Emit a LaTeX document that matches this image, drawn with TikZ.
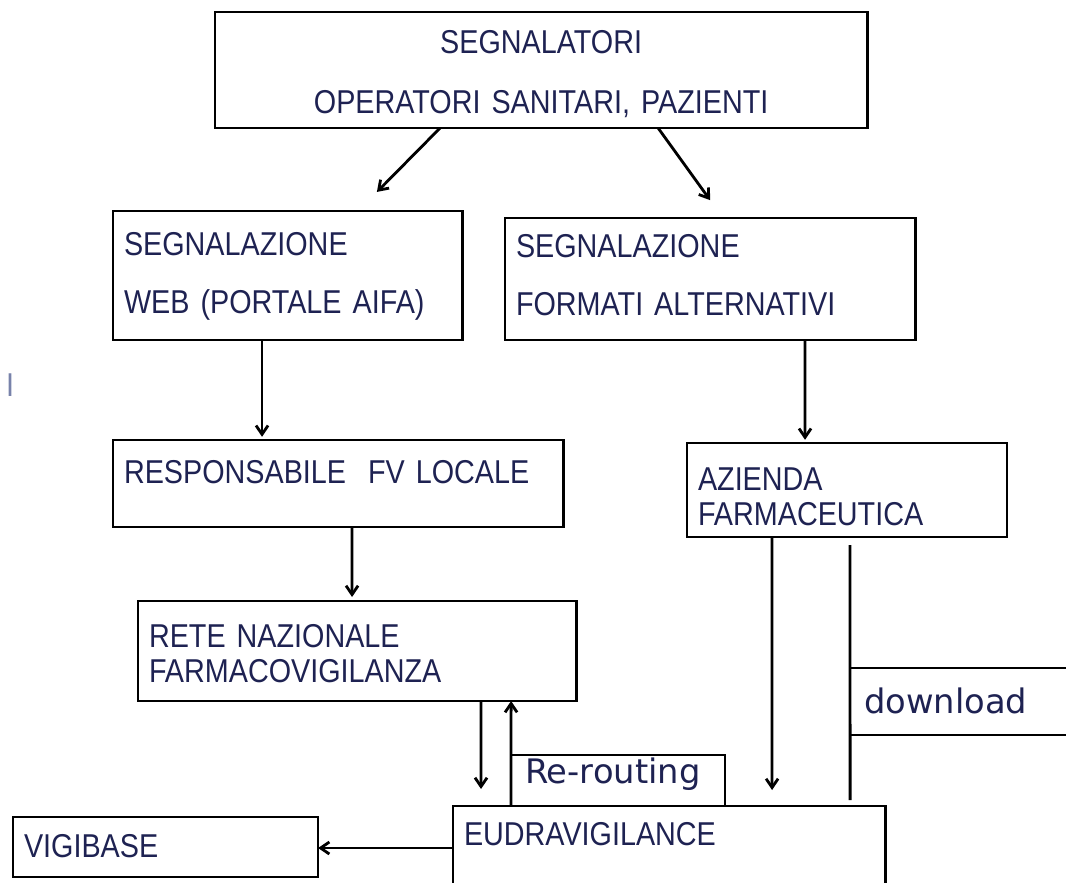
\documentclass[tikz,border=0pt]{standalone}
\usepackage{fontspec}
\setmainfont[FakeStretch=0.87]{Liberation Sans}
\newfontfamily\labelfont{DejaVu Sans}
\usetikzlibrary{arrows.meta, positioning}
\definecolor{navy}{RGB}{30, 34, 82}
\definecolor{faint}{RGB}{120, 130, 170}

\begin{document}
\begin{tikzpicture}[
        x=0.025cm, y=-0.025cm,
        box/.style={rectangle, draw=black, line width=2pt, anchor=north west,
            inner xsep=0.275cm, inner ysep=0pt, outer sep=0pt, align=left,
            text=navy, font=\fontsize{23.5}{41.3}\selectfont},
        tight/.style={font=\fontsize{23.5}{24.9}\selectfont},
        tag/.style={rectangle, draw=black, line width=2pt, anchor=north west,
            inner xsep=0.35cm, inner ysep=0pt, outer sep=0pt, align=left,
            text=navy, font=\labelfont\fontsize{24}{28}\selectfont},
        arrow/.style={-{Straight Barb[length=0.22cm, width=0.3cm]}, line width=2pt}
        ]
        \useasboundingbox (0,0) rectangle (1066,882);

        \node[box, align=center, text width=15.75cm, text height=1.025cm, text depth=1.875cm,
            font=\fontsize{23.5}{42.7}\selectfont] (segn) at (215,12) {SEGNALATORI\\OPERATORI SANITARI, PAZIENTI};
        \node[box, text width=8.175cm, text height=1.1cm, text depth=2.125cm] (web) at (113,211) {SEGNALAZIONE\\WEB (PORTALE AIFA)};
        \node[box, text width=9.7cm, text height=0.975cm, text depth=2.075cm] (alt) at (505,218) {SEGNALAZIONE\\FORMATI ALTERNATIVI};
        \node[box, text width=10.7cm, text height=1.075cm, text depth=1.1cm] (resp) at (113,440) {RESPONSABILE\ \ FV LOCALE};
        \node[box, tight, text width=7.45cm, text height=1.175cm, text depth=1.175cm] (azienda) at (687,443) {AZIENDA\\FARMACEUTICA};
        \node[box, tight, text width=10.4cm, text height=1.15cm, text depth=1.35cm] (rete) at (138,601) {RETE NAZIONALE\\FARMACOVIGILANZA};
        \node[box, text width=10.25cm, text height=0.975cm, text depth=1.6cm] (eudra) at (453,806) {EUDRAVIGILANCE};
        \node[box, text width=7.075cm, text height=1.0cm, text depth=0.5cm] (vigi) at (13,817) {VIGIBASE};
        \node[tag, text width=4.65cm, text height=0.7cm, text depth=0.575cm] (rerout) at (511,755) {Re-routing};
        \node[tag, text width=5.5cm, text height=1.125cm, text depth=0.55cm] (dl) at (850,668) {download};
        \node[text=faint, font=\fontsize{23.5}{28}\selectfont] (mark) at (10,385) {I};

        \draw[arrow, shorten >=0.67cm] ([xshift=5.625cm]segn.south west) -- ([xshift=6.125cm]web.north west);
        \draw[arrow, shorten >=0.55cm] ([xshift=11.075cm]segn.south west) -- ([xshift=5.45cm]alt.north west);
        \draw[arrow, shorten >=0.08cm] ([xshift=3.725cm]web.south west) -- ([xshift=3.725cm]resp.north west);
        \draw[arrow, shorten >=0.08cm] ([xshift=7.5cm]alt.south west) -- ([xshift=2.95cm]azienda.north west);
        \draw[arrow, shorten >=0.1cm] ([xshift=5.975cm]resp.south west) -- ([xshift=5.35cm]rete.north west);
        \draw[arrow, shorten >=0.425cm] ([xshift=8.575cm]rete.south west) -- ([xshift=0.7cm]eudra.north west);
        \draw[arrow] ([xshift=1.45cm]eudra.north west) -- ([xshift=9.325cm]rete.south west);
        \draw[arrow, shorten >=0.4cm] ([xshift=2.125cm]azienda.south west) -- ([xshift=7.975cm]eudra.north west);
        \coordinate (eudraw) at ([yshift=-1.05cm]eudra.north west);
        \draw[arrow] (eudraw) -- (eudraw -| vigi.east);
        \draw[line width=2pt] ([xshift=4.075cm, yshift=-0.2cm]azienda.south west) -- ([xshift=9.925cm, yshift=0.15cm]eudra.north west);
    \end{tikzpicture}
\end{document}
